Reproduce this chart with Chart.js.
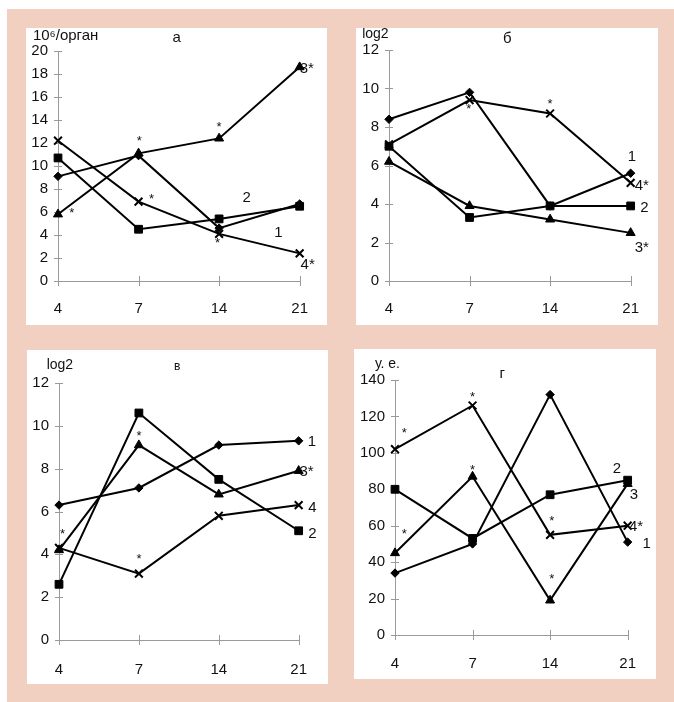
<!DOCTYPE html>
<html>
<head>
<meta charset="utf-8">
<script src="https://cdn.jsdelivr.net/npm/chart.js@4/dist/chart.umd.min.js"></script>
<style>
  html, body { margin: 0; padding: 0; background: #ffffff; }
  #frame { position: absolute; left: 7px; top: 9px; width: 667px; height: 693px; background: #F2D0C1; }
  .panel { position: absolute; background: #ffffff; }
  .panel canvas { display: block; }
</style>
</head>
<body>
<div id="frame"></div>
<div class="panel" style="left:26px;top:28px;width:301px;height:297px"><canvas id="ca" width="301" height="297"></canvas></div>
<div class="panel" style="left:356px;top:28px;width:302px;height:297px"><canvas id="cb" width="302" height="297"></canvas></div>
<div class="panel" style="left:27px;top:350px;width:301px;height:334px"><canvas id="cv" width="301" height="334"></canvas></div>
<div class="panel" style="left:354px;top:349px;width:302px;height:330px"><canvas id="cg" width="302" height="330"></canvas></div>
<script>
// Days after the start of the experiment
const days = ['4', '7', '14', '21'];

// Panel а: cells per organ, 10^6
const a1 = [9.1, 10.9, 4.6, 6.7];
const a2 = [10.7, 4.5, 5.4, 6.5];
const a3 = [5.8, 11.1, 12.4, 18.6];
const a4 = [12.2, 6.9, 4.1, 2.4];

// Panel б: titre, log2
const b1 = [8.4, 9.8, 3.9, 5.6];
const b2 = [7.0, 3.3, 3.9, 3.9];
const b3 = [6.2, 3.9, 3.2, 2.5];
const b4 = [7.1, 9.4, 8.7, 5.1];

// Panel в: titre, log2
const v1 = [6.3, 7.1, 9.1, 9.3];
const v2 = [2.6, 10.6, 7.5, 5.1];
const v3 = [4.2, 9.1, 6.8, 7.9];
const v4 = [4.3, 3.1, 5.8, 6.3];

// Panel г: conventional units
const g1 = [34, 50, 132, 51];
const g2 = [80, 53, 77, 85];
const g3 = [45, 87, 19, 83];
const g4 = [102, 126, 55, 60];

// Y-axis tick ranges
const yTicksA = { max: 20, step: 2 };
const yTicksB = { max: 12, step: 2 };
const yTicksV = { max: 12, step: 2 };
const yTicksG = { max: 140, step: 20 };

const AXIS = '#9a9a9a';
const FONT = '"Liberation Sans", Arial, sans-serif';
const markers = [
  { style: 'rectRot', r: 4.2 },
  { style: 'rect', r: 5.5 },
  { style: 'triangle', r: 5.2 },
  { style: 'crossRot', r: 5.5 }
];

function drawInk(ctx, text, cx, cy, size) {
  ctx.font = size + 'px ' + FONT;
  ctx.textAlign = 'left';
  ctx.textBaseline = 'alphabetic';
  const m = ctx.measureText(text);
  const x = cx - (m.actualBoundingBoxRight - m.actualBoundingBoxLeft) / 2;
  const y = cy + (m.actualBoundingBoxAscent - m.actualBoundingBoxDescent) / 2;
  ctx.fillText(text, x, y);
}

// Short tick marks that cross both axes
const crossTicks = {
  id: 'crossTicks',
  beforeDatasetsDraw(chart) {
    const { ctx, chartArea, scales: { x, y } } = chart;
    ctx.save();
    ctx.strokeStyle = AXIS;
    ctx.lineWidth = 1;
    ctx.beginPath();
    y.ticks.forEach((t, i) => {
      const py = Math.round(y.getPixelForTick(i)) + 0.5;
      ctx.moveTo(chartArea.left - 4, py);
      ctx.lineTo(chartArea.left + 4, py);
    });
    x.ticks.forEach((t, i) => {
      const px = Math.round(x.getPixelForTick(i)) + 0.5;
      ctx.moveTo(px, chartArea.bottom - 5);
      ctx.lineTo(px, chartArea.bottom + 5);
    });
    ctx.stroke();
    ctx.restore();
  }
};

// Headings, unit captions, curve numbers and significance marks
const notes = {
  id: 'notes',
  afterDatasetsDraw(chart, args, opts) {
    const { ctx, scales: { x, y } } = chart;
    ctx.save();
    ctx.fillStyle = '#111';
    drawInk(ctx, opts.title, opts.titleAt[0], opts.titleAt[1], opts.titleSize);
    drawInk(ctx, opts.unit, opts.unitAt[0], opts.unitAt[1], opts.unitSize);
    opts.marks.forEach(([text, i, v, size]) => {
      drawInk(ctx, text, x.getPixelForValue(i), y.getPixelForValue(v), size);
    });
    ctx.restore();
  }
};

function makeChart(id, series, yt, box, note) {
  const canvas = document.getElementById(id);
  const W = canvas.width, H = canvas.height;
  const fit = { left: box.left, bottom: H - box.bottom };
  const chart = new Chart(canvas, {
    type: 'line',
    data: {
      labels: days,
      datasets: series.map((vals, k) => ({
        data: vals,
        borderColor: '#000',
        borderWidth: 2,
        backgroundColor: '#000',
        pointStyle: markers[k].style,
        pointRadius: markers[k].r,
        pointBackgroundColor: '#000',
        pointBorderColor: '#000',
        pointBorderWidth: k === 3 ? 2 : 1,
        tension: 0,
        fill: false,
        clip: false
      }))
    },
    options: {
      responsive: false,
      animation: false,
      events: [],
      layout: { autoPadding: false, padding: { top: box.top, right: W - box.right, left: 0, bottom: 0 } },
      plugins: {
        legend: { display: false },
        tooltip: { enabled: false },
        notes: note
      },
      scales: {
        x: {
          offset: false,
          grid: { display: false, drawTicks: false },
          border: { display: true, color: AXIS, width: 1 },
          ticks: { color: '#111', font: { family: FONT, size: 15 }, padding: box.xPad, maxRotation: 0, autoSkip: false },
          afterFit: (s) => { s.height = fit.bottom; }
        },
        y: {
          min: 0,
          max: yt.max,
          grid: { display: false, drawTicks: false },
          border: { display: true, color: AXIS, width: 1 },
          ticks: { stepSize: yt.step, color: '#111', font: { family: FONT, size: 15 }, padding: 10 },
          afterFit: (s) => { s.width = fit.left; }
        }
      }
    },
    plugins: [crossTicks, notes]
  });
  // Nudge the plot area so the axes land exactly on the intended frame
  for (let pass = 0; pass < 2; pass++) {
    const ca = chart.chartArea;
    const pad = chart.options.layout.padding;
    pad.right -= box.right - ca.right;
    pad.top += box.top - ca.top;
    fit.left += box.left - ca.left;
    fit.bottom += ca.bottom - box.bottom;
    chart.update();
  }
  return chart;
}

makeChart('ca', [a1, a2, a3, a4], yTicksA,
  { left: 32, top: 23, right: 278, bottom: 253, xPad: 19 },
  {
    title: 'а', titleAt: [151, 9.5], titleSize: 15,
    unit: '10⁶/орган', unitAt: [40, 8], unitSize: 15,
    marks: [
      ['3*', 3.09, 18.5, 15], ['4*', 3.10, 1.48, 15], ['2', 2.34, 7.3, 15], ['1', 2.74, 4.26, 15],
      ['*', 0.17, 6.17, 13], ['*', 1.01, 12.4, 13], ['*', 1.16, 7.33, 13], ['*', 2.0, 13.57, 13], ['*', 1.98, 3.5, 13]
    ]
  });

makeChart('cb', [b1, b2, b3, b4], yTicksB,
  { left: 33, top: 22, right: 276, bottom: 253, xPad: 19 },
  {
    title: 'б', titleAt: [151, 9], titleSize: 15,
    unit: 'log2', unitAt: [19.5, 6], unitSize: 14,
    marks: [
      ['1', 3.02, 6.5, 15], ['4*', 3.14, 4.99, 15], ['2', 3.17, 3.86, 15], ['3*', 3.14, 1.78, 15],
      ['*', 0.99, 9.04, 13], ['*', 2.0, 9.3, 13]
    ]
  });

makeChart('cv', [v1, v2, v3, v4], yTicksV,
  { left: 32, top: 33, right: 278, bottom: 290, xPad: 21 },
  {
    title: 'в', titleAt: [150, 16], titleSize: 12,
    unit: 'log2', unitAt: [33, 15], unitSize: 14,
    marks: [
      ['1', 3.17, 9.27, 15], ['3*', 3.10, 7.9, 15], ['4', 3.17, 6.23, 15], ['2', 3.17, 5.01, 15],
      ['*', 0.045, 5.06, 13], ['*', 1.0, 9.62, 13], ['*', 1.0, 3.89, 13]
    ]
  });

makeChart('cg', [g1, g2, g3, g4], yTicksG,
  { left: 41, top: 31, right: 279, bottom: 286, xPad: 20 },
  {
    title: 'г', titleAt: [149, 25], titleSize: 15,
    unit: 'у. е.', unitAt: [33, 16], unitSize: 14,
    marks: [
      ['2', 2.86, 91.9, 15], ['3', 3.08, 77.2, 15], ['4*', 3.11, 60, 15], ['1', 3.25, 50.3, 15],
      ['*', 0.12, 112.2, 13], ['*', 1.0, 132.1, 13], ['*', 0.12, 56.7, 13],
      ['*', 1.0, 91.9, 13], ['*', 2.02, 63.7, 13], ['*', 2.02, 32.0, 13]
    ]
  });
</script>
</body>
</html>
